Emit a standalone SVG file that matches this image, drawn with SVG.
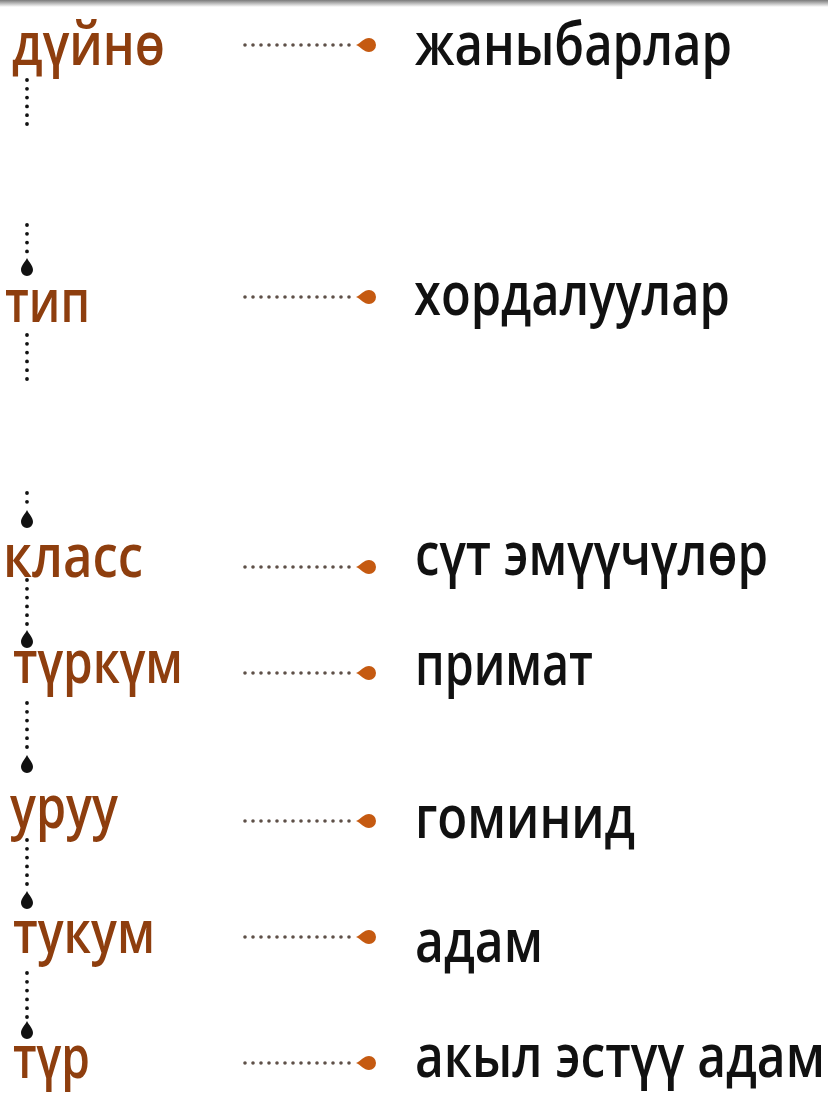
<svg xmlns="http://www.w3.org/2000/svg" width="828" height="1093" viewBox="0 0 828 1093">
<defs>
<style>
.lbl{font-family:"Open Sans","Noto Sans","DejaVu Sans",sans-serif;font-size:60px;font-weight:600;fill:#8E3E0E}
.val{font-family:"Open Sans","Noto Sans","DejaVu Sans",sans-serif;font-size:60px;font-weight:600;fill:#111}
.hdots{stroke:#5e5048;stroke-width:3.6;stroke-linecap:round;stroke-dasharray:0 8;fill:none}
.vdots{stroke:#111;stroke-width:3.8;stroke-linecap:round;stroke-dasharray:0 8.8;fill:none}
</style>
<linearGradient id="bar" x1="0" y1="0" x2="0" y2="1">
<stop offset="0" stop-color="#7a7a7a"/>
<stop offset="1" stop-color="#ffffff"/>
</linearGradient>
<path id="vdrop" d="M0,-12 C1.8,-8 6,-4.5 6,0 A6,6 0 1 1 -6,0 C-6,-4.5 -1.8,-8 0,-12 Z" fill="#111"/>
<path id="hdrop" d="M-13,0 C-8.5,-1.8 -5,-7 0,-7 A7,7 0 1 1 0,7 C-5,7 -8.5,1.8 -13,0 Z" fill="#C55A11"/>
</defs>
<rect x="0" y="0" width="828" height="1093" fill="#fff"/>
<rect x="0" y="0" width="828" height="7" fill="url(#bar)"/>

<g id="connectors">
<line class="vdots" x1="27" y1="80" x2="27" y2="126"/>
<line class="vdots" x1="27" y1="225" x2="27" y2="258"/>
<use href="#vdrop" x="27" y="270"/>
<line class="vdots" x1="27" y1="335" x2="27" y2="382"/>
<line class="vdots" x1="27" y1="493" x2="27" y2="510"/>
<use href="#vdrop" x="27" y="522"/>
<line class="vdots" x1="27" y1="580" x2="27" y2="630"/>
<use href="#vdrop" x="27" y="642"/>
<line class="vdots" x1="27" y1="703" x2="27" y2="755"/>
<use href="#vdrop" x="27" y="767"/>
<line class="vdots" x1="27" y1="840" x2="27" y2="891"/>
<use href="#vdrop" x="27" y="903"/>
<line class="vdots" x1="27" y1="973" x2="27" y2="1021"/>
<use href="#vdrop" x="27" y="1033"/>

<line class="hdots" x1="245" y1="45" x2="357" y2="45"/><use href="#hdrop" x="369" y="45"/>
<line class="hdots" x1="245" y1="297" x2="357" y2="297"/><use href="#hdrop" x="369" y="297"/>
<line class="hdots" x1="245" y1="567" x2="357" y2="567"/><use href="#hdrop" x="369" y="567"/>
<line class="hdots" x1="245" y1="673" x2="357" y2="673"/><use href="#hdrop" x="369" y="673"/>
<line class="hdots" x1="245" y1="821" x2="357" y2="821"/><use href="#hdrop" x="369" y="821"/>
<line class="hdots" x1="245" y1="937" x2="357" y2="937"/><use href="#hdrop" x="369" y="937"/>
<line class="hdots" x1="245" y1="1063" x2="357" y2="1063"/><use href="#hdrop" x="369" y="1063"/>
</g>

<g id="row-duyno">
<text class="lbl" x="12" y="65" textLength="153" lengthAdjust="spacingAndGlyphs">дүйнө</text>
<text class="val" x="415" y="65" textLength="317" lengthAdjust="spacingAndGlyphs">жаныбарлар</text>
</g>
<g id="row-tip">
<text class="lbl" x="5" y="322" textLength="85" lengthAdjust="spacingAndGlyphs">тип</text>
<text class="val" x="414" y="315" textLength="316" lengthAdjust="spacingAndGlyphs">хордалуулар</text>
</g>
<g id="row-klass">
<text class="lbl" x="3" y="577" textLength="140" lengthAdjust="spacingAndGlyphs">класс</text>
<text class="val" x="415" y="575" textLength="353" lengthAdjust="spacingAndGlyphs">сүт эмүүчүлөр</text>
</g>
<g id="row-turkum">
<text class="lbl" x="13" y="683" textLength="170" lengthAdjust="spacingAndGlyphs">түркүм</text>
<text class="val" x="415" y="685" textLength="178" lengthAdjust="spacingAndGlyphs">примат</text>
</g>
<g id="row-uruu">
<text class="lbl" x="10" y="828" textLength="108" lengthAdjust="spacingAndGlyphs">уруу</text>
<text class="val" x="415" y="838" textLength="220" lengthAdjust="spacingAndGlyphs">гоминид</text>
</g>
<g id="row-tukum">
<text class="lbl" x="13" y="953" textLength="142" lengthAdjust="spacingAndGlyphs">тукум</text>
<text class="val" x="415" y="962" textLength="128" lengthAdjust="spacingAndGlyphs">адам</text>
</g>
<g id="row-tur">
<text class="lbl" x="13" y="1078" textLength="77" lengthAdjust="spacingAndGlyphs">түр</text>
<text class="val" x="415" y="1077" textLength="410" lengthAdjust="spacingAndGlyphs">акыл эстүү адам</text>
</g>
</svg>
